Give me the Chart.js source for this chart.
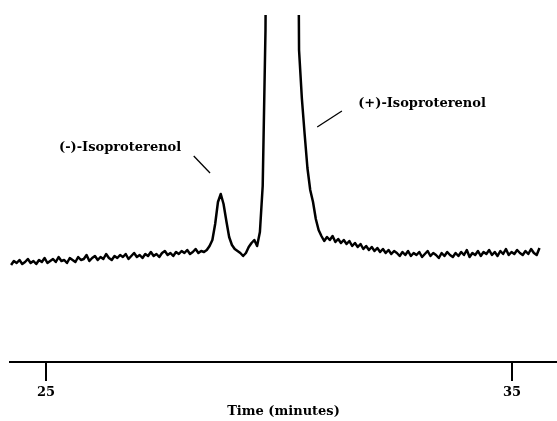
<!DOCTYPE html>
<html>
<head>
<meta charset="utf-8">
<script src="https://cdn.jsdelivr.net/npm/chart.js@4.4.1/dist/chart.umd.min.js"></script>
<style>
  html, body { margin: 0; padding: 0; background: #fff; }
  #wrap { width: 557px; height: 421px; }
</style>
</head>
<body>
<div id="wrap"><canvas id="chromatogram" width="557" height="421"></canvas></div>
<script>
// detector sampling: first scan time and interval (minutes)
const scanStart = 24.25;
const scanStep = 0.06;

// detector signal (arbitrary units), one value per scan
const baselineLeft = [
    97, 101, 99, 102, 98, 100, 103, 99, 101, 98,
    102, 100, 104, 99, 101, 103, 100, 105, 101, 102,
    99, 104, 102, 100, 105, 102, 103, 107, 101, 104,
    106, 102, 105, 103, 108, 104, 102, 106, 104, 107,
    105, 108, 103, 106, 109, 105, 107, 104, 108, 106,
    110, 106, 108, 105, 109, 111, 107, 109, 106, 110,
    108, 111, 109, 112, 108, 110, 113, 109, 111, 110
];
const minusPeak = [
    112, 116, 122, 138, 160, 168, 158, 141, 125, 117,
    113, 111, 109, 106, 109, 115, 119, 122, 116, 130
];
const plusPeak = [
    176, 332, 800, 1500, 2300, 2900, 3200, 3250, 3100, 2700,
    2100, 1400, 800, 312, 264, 228, 194, 172, 160, 143,
    132, 126
];
const baselineRight = [
    121, 125, 122, 126, 120, 123, 119, 122,
    118, 121, 116, 119, 115, 118, 113, 116, 112, 115,
    111, 114, 110, 113, 109, 112, 108, 111, 109, 106,
    110, 107, 111, 106, 109, 107, 110, 105, 108, 111,
    106, 109, 107, 104, 109, 106, 110, 107, 105, 109,
    106, 110, 107, 112, 105, 109, 107, 111, 106, 110,
    108, 112, 107, 110, 106, 111, 108, 113, 107, 110,
    108, 112, 109, 107, 111, 108, 113, 109, 107, 114
];

const timeTicks = [25, 35];
const timeRange = [24.227, 35.966];
const signalRange = [0, 347];

// peak labels: text, label anchor (time, signal), leader line from/to
const peakLabels = [
    { text: '(-)-Isoproterenol', at: [26.59, 214], from: [28.17, 206], to: [28.52, 189] },
    { text: '(+)-Isoproterenol', at: [33.07, 258], from: [31.35, 251], to: [30.82, 235] }
];

const signal = baselineLeft.concat(minusPeak, plusPeak, baselineRight);
const points = signal.map(function(v, i) {
    return { x: scanStart + i * scanStep, y: v };
});

const serifFont = "'DejaVu Serif', serif";

const peakLabelPlugin = {
    id: 'peakLabels',
    afterDatasetsDraw: function(chart) {
        const ctx = chart.ctx;
        const xs = chart.scales.x;
        const ys = chart.scales.y;
        ctx.save();
        ctx.fillStyle = '#000';
        ctx.strokeStyle = '#000';
        ctx.lineWidth = 1.3;
        ctx.font = 'bold 13px ' + serifFont;
        ctx.textAlign = 'center';
        ctx.textBaseline = 'middle';
        peakLabels.forEach(function(lbl) {
            ctx.fillText(lbl.text, xs.getPixelForValue(lbl.at[0]), ys.getPixelForValue(lbl.at[1]));
            ctx.beginPath();
            ctx.moveTo(xs.getPixelForValue(lbl.from[0]), ys.getPixelForValue(lbl.from[1]));
            ctx.lineTo(xs.getPixelForValue(lbl.to[0]), ys.getPixelForValue(lbl.to[1]));
            ctx.stroke();
        });
        ctx.restore();
    }
};

const chromatogramContext = document.getElementById('chromatogram').getContext('2d');

const chromatogramChart = new Chart(chromatogramContext, {
    type: 'line',
    data: {
        datasets: [{
            label: 'Signal',
            data: points,
            borderColor: '#000',
            borderWidth: 2.5,
            borderJoinStyle: 'round',
            pointRadius: 0,
            tension: 0,
            fill: false
        }]
    },
    options: {
        responsive: false,
        animation: false,
        layout: { padding: { left: 10, right: 0, top: 15, bottom: 0 } },
        plugins: {
            legend: { display: false },
            tooltip: { enabled: false }
        },
        scales: {
            x: {
                type: 'linear',
                min: timeRange[0],
                max: timeRange[1],
                afterBuildTicks: function(scale) {
                    scale.ticks = timeTicks.map(function(v) { return { value: v }; });
                },
                afterFit: function(scale) {
                    scale.height = 59;
                },
                ticks: {
                    color: '#000',
                    font: { family: serifFont, size: 13, weight: 'bold' },
                    padding: 4,
                    maxRotation: 0,
                    autoSkip: false
                },
                grid: {
                    drawOnChartArea: false,
                    drawTicks: true,
                    tickLength: 19,
                    lineWidth: 2,
                    color: '#000'
                },
                border: { display: true, width: 2, color: '#000' },
                title: {
                    display: true,
                    text: 'Time (minutes)',
                    color: '#000',
                    font: { family: serifFont, size: 13, weight: 'bold' },
                    padding: { top: 0, bottom: 2 }
                }
            },
            y: {
                display: false,
                min: signalRange[0],
                max: signalRange[1]
            }
        }
    },
    plugins: [peakLabelPlugin]
});
</script>
</body>
</html>
